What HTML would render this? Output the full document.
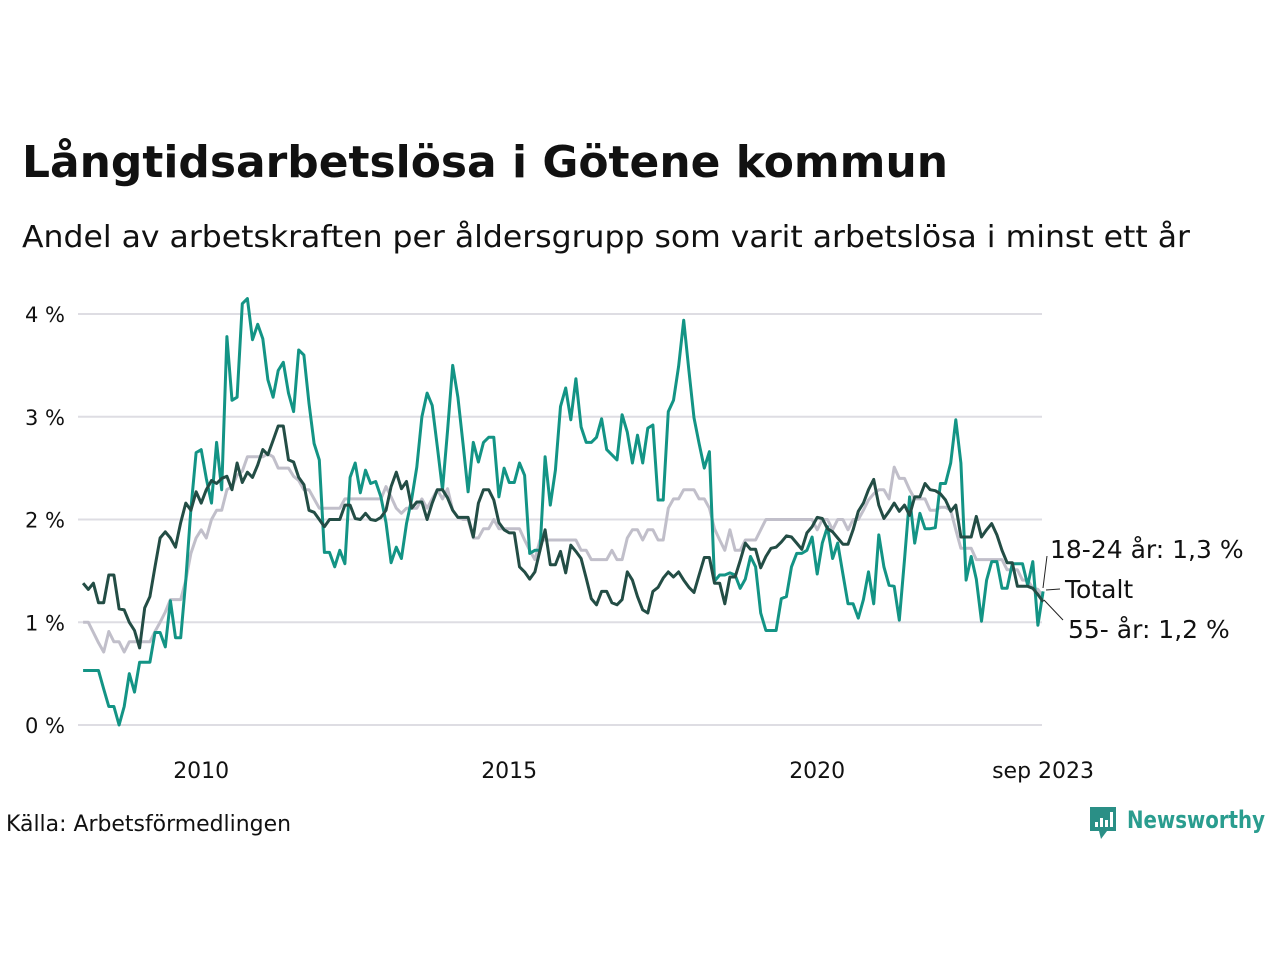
<!DOCTYPE html>
<html><head><meta charset="utf-8"><style>
html,body{margin:0;padding:0;background:#fff;}
svg{display:block;font-family:"DejaVu Sans","Liberation Sans",sans-serif;}
</style></head><body>
<svg id="chart" width="1280" height="960" viewBox="0 0 1280 960" xmlns="http://www.w3.org/2000/svg">
<text x="22" y="177" font-size="44" font-weight="bold" fill="#111" textLength="926" lengthAdjust="spacingAndGlyphs">Långtidsarbetslösa i Götene kommun</text>
<text x="22" y="247" font-size="30" fill="#111" textLength="1168" lengthAdjust="spacingAndGlyphs">Andel av arbetskraften per åldersgrupp som varit arbetslösa i minst ett år</text>
<g id="grid"></g>
<g id="yticks"></g>
<g id="xticks"></g>
<g id="series"></g>
<g font-size="25" fill="#111">
<text x="1050" y="558">18-24 år: 1,3 %</text>
<text x="1065" y="598">Totalt</text>
<text x="1068" y="638">55- år: 1,2 %</text>
<line x1="1043" y1="588" x2="1047" y2="556" stroke="#222" stroke-width="1"/>
<line x1="1046" y1="590" x2="1060" y2="589" stroke="#222" stroke-width="1"/>
<line x1="1044" y1="600" x2="1063" y2="620" stroke="#222" stroke-width="1"/>
</g>
<text x="6" y="831" font-size="22" fill="#111" textLength="285" lengthAdjust="spacingAndGlyphs">Källa: Arbetsförmedlingen</text>
<g>
<path d="M1090 807 h26 v24 h-9 l-6 8 l-2 -8 h-9 z" fill="#2a8f86"/>
<rect x="1095" y="822" width="3" height="5" fill="#fff"/><rect x="1100" y="818" width="3" height="9" fill="#fff"/><rect x="1105" y="820" width="3" height="7" fill="#fff"/><rect x="1110" y="812" width="3" height="15" fill="#fff"/>
<text x="1127" y="828" font-size="24" font-weight="bold" fill="#2a9d8f" textLength="138" lengthAdjust="spacingAndGlyphs">Newsworthy</text>
</g>
</svg>
<script>
const yTicks=[0,1,2,3,4];
const yTickLabels=["0 %","1 %","2 %","3 %","4 %"];
const xTickMonths=[24,84,144,188];
const xTickLabels=["2010","2015","2020","sep 2023"];
const startMonth=1;
const totalt=[1.0,1.0,.9,.8,.71,.91,.81,.81,.71,.81,.81,.81,.81,.81,.91,1.0,1.1,1.22,1.22,1.22,1.41,1.67,1.82,1.9,1.82,2.0,2.09,2.09,2.29,2.32,2.43,2.47,2.61,2.61,2.61,2.61,2.64,2.61,2.5,2.5,2.5,2.42,2.38,2.29,2.29,2.2,2.11,2.11,2.11,2.11,2.11,2.2,2.2,2.2,2.2,2.2,2.2,2.2,2.2,2.32,2.22,2.11,2.06,2.11,2.11,2.11,2.2,2.11,2.2,2.29,2.2,2.3,2.09,2.02,2.0,2.0,1.82,1.82,1.91,1.91,2.0,1.91,1.91,1.91,1.91,1.91,1.8,1.7,1.61,1.8,1.8,1.8,1.8,1.8,1.8,1.8,1.8,1.7,1.7,1.61,1.61,1.61,1.61,1.7,1.61,1.61,1.82,1.9,1.9,1.8,1.9,1.9,1.8,1.8,2.11,2.2,2.2,2.29,2.29,2.29,2.2,2.2,2.11,1.91,1.8,1.7,1.9,1.7,1.7,1.8,1.8,1.8,1.9,2.0,2.0,2.0,2.0,2.0,2.0,2.0,2.0,2.0,2.0,1.9,2.0,2.0,1.9,2.0,2.0,1.9,2.0,2.0,2.09,2.19,2.25,2.29,2.29,2.2,2.51,2.4,2.4,2.29,2.2,2.2,2.2,2.09,2.09,2.12,2.12,2.09,1.9,1.72,1.72,1.72,1.61,1.61,1.61,1.61,1.61,1.61,1.51,1.51,1.51,1.41,1.41,1.33,1.32,1.25];
const age1824=[.53,.53,.53,.53,.35,.18,.18,0,.18,.5,.32,.61,.61,.61,.9,.9,.76,1.21,.85,.85,1.41,2.1,2.65,2.68,2.4,2.16,2.75,2.29,3.78,3.16,3.19,4.1,4.15,3.75,3.9,3.76,3.36,3.19,3.45,3.53,3.23,3.05,3.65,3.6,3.13,2.74,2.58,1.68,1.68,1.54,1.7,1.57,2.41,2.55,2.26,2.48,2.35,2.37,2.22,1.97,1.58,1.73,1.62,1.96,2.2,2.51,3.0,3.23,3.11,2.71,2.29,2.87,3.5,3.19,2.74,2.27,2.75,2.56,2.75,2.8,2.8,2.22,2.5,2.36,2.36,2.55,2.43,1.67,1.7,1.7,2.61,2.14,2.48,3.1,3.28,2.97,3.37,2.9,2.75,2.75,2.8,2.98,2.68,2.63,2.58,3.02,2.85,2.55,2.82,2.55,2.89,2.92,2.19,2.19,3.05,3.16,3.49,3.94,3.45,2.99,2.74,2.5,2.66,1.4,1.46,1.46,1.48,1.46,1.33,1.42,1.64,1.54,1.09,.92,.92,.92,1.23,1.25,1.54,1.67,1.67,1.70,1.83,1.47,1.77,1.93,1.62,1.77,1.47,1.18,1.18,1.04,1.22,1.49,1.18,1.85,1.54,1.36,1.35,1.02,1.61,2.22,1.77,2.06,1.91,1.91,1.92,2.35,2.35,2.55,2.97,2.55,1.41,1.64,1.42,1.01,1.41,1.59,1.59,1.33,1.33,1.57,1.57,1.57,1.36,1.59,.97,1.30];
const age55=[1.38,1.32,1.38,1.19,1.19,1.46,1.46,1.13,1.12,1.0,.92,.75,1.14,1.25,1.54,1.82,1.88,1.82,1.73,1.97,2.16,2.09,2.27,2.16,2.29,2.38,2.35,2.40,2.42,2.29,2.55,2.36,2.46,2.41,2.53,2.68,2.63,2.77,2.91,2.91,2.58,2.56,2.41,2.34,2.09,2.07,2.0,1.93,2.0,2.0,2.0,2.14,2.14,2.01,2.0,2.06,2.0,1.99,2.02,2.09,2.32,2.46,2.3,2.37,2.11,2.17,2.17,2.0,2.16,2.29,2.29,2.21,2.09,2.02,2.02,2.02,1.83,2.16,2.29,2.29,2.19,1.97,1.9,1.87,1.87,1.54,1.49,1.42,1.49,1.70,1.9,1.56,1.56,1.69,1.48,1.75,1.69,1.62,1.43,1.23,1.17,1.3,1.3,1.19,1.17,1.22,1.49,1.41,1.25,1.12,1.09,1.3,1.34,1.43,1.49,1.44,1.49,1.41,1.34,1.29,1.46,1.63,1.63,1.38,1.38,1.18,1.44,1.44,1.6,1.77,1.71,1.71,1.53,1.64,1.72,1.73,1.78,1.84,1.83,1.77,1.71,1.87,1.93,2.02,2.01,1.91,1.88,1.82,1.76,1.76,1.90,2.08,2.16,2.29,2.39,2.14,2.01,2.08,2.16,2.08,2.14,2.04,2.22,2.22,2.35,2.29,2.28,2.25,2.19,2.08,2.14,1.83,1.83,1.83,2.03,1.83,1.90,1.96,1.85,1.70,1.58,1.58,1.35,1.35,1.35,1.33,1.27,1.2];

const NS="http://www.w3.org/2000/svg";
const X0=78, PX_PER_MONTH=(817-201)/120, Y0=725, PX_PER_PCT=(725-314)/4;
function xScale(m){return X0+m*PX_PER_MONTH;}
function yScale(v){return Y0-v*PX_PER_PCT;}
const grid=document.getElementById('grid'), yt=document.getElementById('yticks'), xt=document.getElementById('xticks'), ser=document.getElementById('series');
yTicks.forEach((v,i)=>{
  const l=document.createElementNS(NS,'line');
  
  
  l.setAttribute('x1',X0);l.setAttribute('x2',1042);l.setAttribute('y1',yScale(v));l.setAttribute('y2',yScale(v));
  l.setAttribute('stroke','#dedde3');l.setAttribute('stroke-width','2');
  grid.appendChild(l);
  const t=document.createElementNS(NS,'text');
  
  
  t.setAttribute('x',65);t.setAttribute('y',yScale(v)+8);t.setAttribute('text-anchor','end');t.setAttribute('font-size','21');t.setAttribute('fill','#111');
  t.textContent=yTickLabels[i];yt.appendChild(t);
});
xTickMonths.forEach((m,i)=>{
  const t=document.createElementNS(NS,'text');
  
  
  t.setAttribute('x',xScale(m));t.setAttribute('y',778);t.setAttribute('text-anchor','middle');t.setAttribute('font-size','22');t.setAttribute('fill','#111');
  t.textContent=xTickLabels[i];xt.appendChild(t);
});
function drawLine(vals,color,name){
  const p=document.createElementNS(NS,'path');
  
  
  p.setAttribute('d',vals.map((v,i)=>(i?'L':'M')+xScale(startMonth+i).toFixed(1)+' '+yScale(v).toFixed(1)).join(''));
  p.setAttribute('fill','none');p.setAttribute('stroke',color);p.setAttribute('stroke-width','3');p.setAttribute('stroke-linejoin','round');
  ser.appendChild(p);
}
drawLine(totalt,'#c1bfca','line-totalt');
drawLine(age1824,'#139485','line-18-24');
drawLine(age55,'#234d45','line-55');
</script>
</body></html>
